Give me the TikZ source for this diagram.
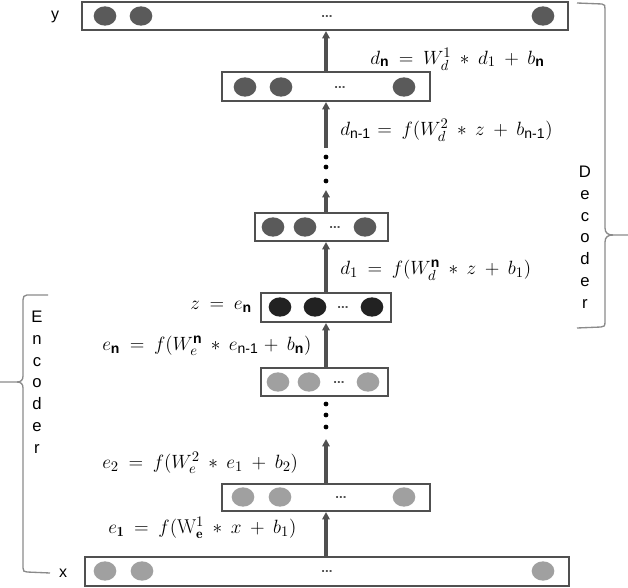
\documentclass[tikz,border=0pt]{standalone}
\usepackage{amsmath}
\usepackage{fontspec}
\setsansfont{Liberation Sans}
\usetikzlibrary{shapes.geometric,arrows.meta}
\definecolor{boxc}{HTML}{505050}
\definecolor{decc}{HTML}{5A5A5A}
\definecolor{zc}{HTML}{222222}
\definecolor{encc}{HTML}{A0A0A0}
\definecolor{bracec}{HTML}{8A8A8A}
\newcommand{\nb}{\text{\sffamily\bfseries n}}
\newcommand{\nm}{\text{\sffamily n-1}}
\begin{document}
\begin{tikzpicture}[x=0.75pt,y=-0.75pt,
  layer/.style={draw=boxc,line width=1.5pt,fill=white,inner sep=0pt,rectangle},
  unit/.style={ellipse,inner sep=0pt,minimum width=17pt,minimum height=14.5pt},
  dec/.style={unit,fill=decc},
  zun/.style={unit,fill=zc},
  enc/.style={unit,fill=encc},
  ell/.style={font=\sffamily\bfseries\fontsize{10}{10}\selectfont,text=boxc,inner sep=0pt},
  arr/.style={draw=boxc,line width=2.4pt,-{Triangle[length=5.5pt,width=5.5pt]}},
  vdot/.style={circle,fill=black,inner sep=0pt,minimum size=3.6pt},
  eq/.style={font=\fontsize{15}{17}\selectfont,inner sep=0pt,anchor=west},
  lbl/.style={font=\sffamily\fontsize{12}{14}\selectfont,inner sep=0pt},
  vtext/.style={font=\sffamily\fontsize{12.5}{16.3}\selectfont,align=center,inner sep=0pt,anchor=north},
  brace/.style={draw=bracec,line width=1pt}
]
\useasboundingbox (0,0) rectangle (628,588);
\thickmuskip=9mu plus 2mu
\medmuskip=8mu plus 2mu
\coordinate (ax) at (326,0);
% boxes
\node[layer,minimum width=364.5pt,minimum height=21pt] (ybox) at (325,16) {};
\node[layer,minimum width=156pt,minimum height=21.75pt] (dnbox) at (326,86.5) {};
\node[layer,minimum width=99.75pt,minimum height=21pt] (d1box) at (321.5,227) {};
\node[layer,minimum width=97.5pt,minimum height=21.75pt] (zbox) at (326,307.5) {};
\node[layer,minimum width=95.25pt,minimum height=21pt] (enbox) at (324.5,382) {};
\node[layer,minimum width=156pt,minimum height=20.25pt] (e2box) at (326,497.5) {};
\node[layer,minimum width=363pt,minimum height=21.75pt] (xbox) at (327,571.5) {};
% units
\node[dec] (y1) at (105,16) {}; \node[dec] (y2) at (141,16) {}; \node[dec] (y3) at (543,16) {};
\node[ell] (ye) at (327,17) {...};
\node[dec] (dn1) at (245,87) {}; \node[dec] (dn2) at (281,87) {}; \node[dec] (dn3) at (404,87) {};
\node[ell] (dne) at (340,88) {...};
\node[dec] (da1) at (273,227) {}; \node[dec] (da2) at (305,227) {}; \node[dec] (da3) at (365,227) {};
\node[ell] (dae) at (335,228) {...};
\node[zun] (z1) at (280,307) {}; \node[zun] (z2) at (315,307) {}; \node[zun] (z3) at (372,307) {};
\node[ell] (ze) at (343,308) {...};
\node[enc] (en1) at (278,382) {}; \node[enc] (en2) at (309,382) {}; \node[enc] (en3) at (368,382) {};
\node[ell] (ene) at (339,383) {...};
\node[enc] (ea1) at (243,497) {}; \node[enc] (ea2) at (280,497) {}; \node[enc] (ea3) at (404,497) {};
\node[ell] (eae) at (341,498) {...};
\node[enc] (x1) at (105,571) {}; \node[enc] (x2) at (142,571) {}; \node[enc] (x3) at (543,571) {};
\node[ell] (xe) at (327,572) {...};
% dots
\node[vdot] (dd1) at (326,157) {}; \node[vdot] (dd2) at (326,167) {}; \node[vdot] (dd3) at (326,181) {};
\coordinate (dtop) at (326,148); \coordinate (dbot) at (326,190);
\node[vdot] (ed1) at (326,404) {}; \node[vdot] (ed2) at (326,415) {}; \node[vdot] (ed3) at (326,427) {};
\coordinate (etip) at (326,439);
% arrows
\draw[arr] (dnbox.north -| ax) -- (ybox.south -| ax);
\draw[arr] (dtop) -- (dnbox.south -| ax);
\draw[arr] (d1box.north -| ax) -- (dbot);
\draw[arr] (zbox.north -| ax) -- (d1box.south -| ax);
\draw[arr] (enbox.north -| ax) -- (zbox.south -| ax);
\draw[arr] (e2box.north -| ax) -- (etip);
\draw[arr] (xbox.north -| ax) -- (e2box.south -| ax);
% labels
\node[lbl] (ylab) at (55,17) {y};
\node[lbl] (xlab) at (63,573) {x};
\node[eq] (eqdn) at (370,59) {$d_{\nb} = W_d^1 \ast d_1 + b_{\nb}$};
\node[eq] (eqdm) at (340,130) {$d_{\nm}\!= f(W_d^2 \ast z + b_{\nm})$};
\node[eq] (eqd1) at (340,270) {$d_1 = f(W_d^{\nb} \ast z + b_1)$};
\node[eq,anchor=east] (eqz) at (252,307) {$z = e_{\nb}$};
\node[eq] (eqen) at (102,346) {$e_{\nb} = f(W_e^{\nb} \ast e_{\nm}\!+ b_{\nb})$};
\node[eq] (eqe2) at (102,463) {$e_2 = f(W_e^2 \ast e_1 + b_2)$};
\node[eq] (eqe1) at (108,528) {$e_{\mathbf{1}} = f(\mathrm{W}_{\mathbf{e}}^1 \ast x + b_1)$};
% braces
\draw[brace] (577,3) -- (602,4) .. controls (605,4) and (605,6) .. (605,9) -- (605,228)
  .. controls (605,233) and (608,235) .. (613,235) -- (628,235);
\draw[brace] (613,235) .. controls (608,235) and (605,237) .. (605,242) -- (605,322)
  .. controls (605,326) and (604,327) .. (601,327) -- (577,328);
\draw[brace] (48,295) -- (27,295) .. controls (24,295) and (23,297) .. (23,300) -- (23,376)
  .. controls (23,380) and (21,382) .. (17,382) -- (0,382);
\draw[brace] (17,382) .. controls (21,382) and (23,384) .. (23,388) -- (23,568)
  .. controls (23,571) and (24,572) .. (27,572) -- (50,573);
\node[vtext] (dectext) at (585,166) {D\\e\\c\\o\\d\\e\\r};
\node[vtext] (enctext) at (37,311) {E\\n\\c\\o\\d\\e\\r};
\end{tikzpicture}
\end{document}
